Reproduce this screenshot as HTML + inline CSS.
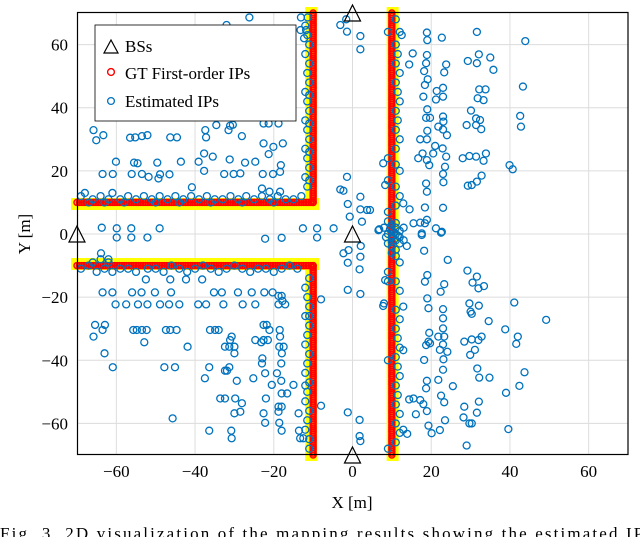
<!DOCTYPE html>
<html><head><meta charset="utf-8">
<style>
html,body{margin:0;padding:0;background:#fff;}
svg{display:block;}
text{font-family:"Liberation Serif",serif;fill:#000;}
</style></head>
<body>
<svg id="chart" width="640" height="537" viewBox="0 0 640 537">
<g id="grid"></g>
<g id="plot"></g>
<rect x="77.5" y="12.5" width="550.5" height="442" fill="none" stroke="#000" stroke-width="1.2"/>
<g id="ticks"></g>
<g id="bs"></g>
<text x="352" y="508" font-size="17" text-anchor="middle">X [m]</text>
<text x="0" y="0" font-size="17" text-anchor="middle" transform="translate(30,234) rotate(-90)">Y [m]</text>
<g>
<rect x="95" y="25" width="201" height="96" fill="#fff" stroke="#000" stroke-width="0.8"/>
<polygon points="104,53 111,40 118,53" fill="none" stroke="#000" stroke-width="1.2"/>
<text x="125" y="52" font-size="17">BSs</text>
<circle cx="111" cy="72" r="3.4" fill="none" stroke="#f00" stroke-width="1.4"/>
<text x="125" y="79" font-size="17">GT First-order IPs</text>
<circle cx="111" cy="101" r="3.4" fill="none" stroke="#0072BD" stroke-width="1.3"/>
<text x="125" y="107" font-size="17">Estimated IPs</text>
</g>
<text x="0" y="539" font-size="17" textLength="652" lengthAdjust="spacing">Fig. 3.   2D visualization of the mapping results showing the estimated IPs</text>
</svg>
<script>
const xTicks = [-60,-40,-20,0,20,40,60];
const yTicks = [-60,-40,-20,0,20,40,60];
const bsPoints = [[0,70],[-70,0],[0,0],[0,-70]];
const roadSegments = [[-70,10,-10,10],[-10,10,-10,70],[-70,-10,-10,-10],[-10,-10,-10,-70],[10,-70,10,70]];
const gtStep = 0.6;
const estTopLeft = [[-65.8,32.9],[-65.1,29.7],[-63.3,31.3],[-56.5,30.5],[-55.2,30.6],[-53.5,31],[-52.1,31.3],[-46.3,30.6],[-44.6,30.6],[-37.4,32.9],[-37.2,30.6],[-34.6,34.5],[-31.1,34.3],[-30.4,34.6],[-31.5,32.9],[-28.1,31],[-22.6,35],[-21.3,35],[-18.8,35],[-22.6,28.7],[-20.1,27.6],[-17.7,28.7],[-21.3,25.3],[-37.7,25.5],[-35.5,24.5],[-60.1,22.9],[-55.5,22.6],[-54.6,22.4],[-49.6,22.6],[-43.6,22.9],[-39.1,22.9],[-31.2,23.6],[-27.3,22.6],[-24.7,22.9],[-18.2,21.8],[-63.5,19],[-60.9,19],[-56.1,19],[-53.5,19],[-51.8,18.1],[-48.9,18.9],[-46.5,18.9],[-49.3,17.6],[-40.8,14.8],[-37.7,20],[-32.6,19],[-30.2,19],[-28.5,19.2],[-22.8,19],[-20.2,19],[-18.4,19.7],[-23,14.4],[-21.1,13.4],[-18.4,13.4],[-32,66.2],[-26.2,68.6],[-31.8,64.6],[-13.1,68.6],[-11.4,68.6],[-13.2,64.6],[-11.8,64.6],[-12.3,62],[-3.1,66.2],[-1.6,68],[-1.4,64.1],[2,62.7],[2,58.5],[-1.4,18.1],[-3.1,14.1],[-2.3,13.7],[2,11.8],[-1.2,9.5],[2,7.8],[3.7,7.6],[-0.7,5.5],[2.4,3.9],[-4.8,1.8],[6.6,1.2],[-63.7,2],[-59.9,1.8],[-56.2,1.8],[-49,1.8],[-59.9,-1.1],[-56.2,-1.1],[-52.1,-1.1],[-22.2,-1.5],[-18,-1.2],[-12.6,1.8],[-9,1.8],[-9,-1.1]];
const estRoadLeft = [[-69,12],[-68,13],[-66,11],[-64,12],[-62,11],[-61,13],[-59,11],[-57,12],[-55,11],[-53,12],[-51,11],[-49,12],[-47,11],[-45,12],[-43,11],[-41,12],[-39,11],[-37,12],[-35,11],[-33,11],[-31,12],[-29,11],[-27,12],[-25,11],[-23,12],[-21,11],[-19,12],[-17,11],[-15,11],[-13,12],[-67,10],[-63,10],[-58,10],[-50,10],[-44,10],[-36,10],[-28,10],[-20,10],[-11.5,15],[-12,18],[-11,21],[-11.5,24],[-12,27],[-11,30],[-11.5,33],[-12,36],[-11,39],[-11.5,42],[-12,45],[-11,48],[-11.5,51],[-11,54],[-12,57],[-11,60],[-11.5,63],[-12,66],[-11,17],[-11,26],[-11,44],[-11,35],[-69,-11],[-67,-10],[-65,-12],[-63,-11],[-61,-12],[-59,-11],[-57,-11],[-55,-12],[-52,-11],[-50,-11],[-48,-12],[-46,-10],[-44,-11],[-42,-12],[-40,-11],[-38,-10],[-36,-11],[-34,-12],[-32,-11],[-30,-10],[-28,-11],[-26,-12],[-24,-11],[-22,-11],[-20,-12],[-18,-11],[-16,-10],[-14,-11],[-64,-8],[-62,-9],[-66,-9],[-63.9,-6.1],[-11,-14],[-12,-17],[-11.5,-20],[-11,-23],[-12,-26],[-11,-29],[-11.5,-32],[-12,-35],[-11,-38],[-11.5,-41],[-12,-44],[-11,-47],[-11.5,-50],[-12,-53],[-11,-56],[-11.5,-59],[-12,-62],[-11,-65],[-11,-68],[-12,-48],[-11,-26],[-8,-20.7],[-8,-54.4]];
const estBottomLeft = [[-63.5,-18.5],[-61,-18.5],[-56,-18.5],[-53.6,-18.5],[-50.2,-18.5],[-46.1,-18.5],[-35.2,-18.5],[-33.2,-18.5],[-29.1,-18.5],[-25.6,-18.5],[-22.4,-18.5],[-20.3,-18.5],[-60.2,-22.3],[-57.5,-22.3],[-54.5,-22.3],[-52.1,-22.3],[-48.9,-22.3],[-46.6,-22.3],[-44,-22.3],[-39.2,-22.3],[-37.2,-22.3],[-32.8,-22.3],[-27.9,-22.3],[-24.7,-22.3],[-18.8,-22.3],[-17.1,-22.3],[-18.8,-19.6],[-18,-19.6],[-17.8,-21.2],[-52.5,-14.4],[-46.3,-14.4],[-42.3,-14.4],[-38.2,-14.4],[-65.4,-28.8],[-62.9,-28.8],[-22.6,-28.8],[-21.8,-28.8],[-63.5,-30.4],[-55.7,-30.4],[-54.8,-30.4],[-53.5,-30.4],[-52.3,-30.4],[-47.4,-30.4],[-46.3,-30.4],[-44.7,-30.4],[-36.2,-30.4],[-34.9,-30.4],[-34,-30.4],[-21.1,-30.4],[-18.5,-30.4],[-65.8,-32.5],[-30.7,-32.5],[-18.4,-32.5],[-31.1,-33.6],[-24.7,-33.6],[-22.6,-33.6],[-21.5,-33.6],[-52.9,-34.3],[-23.2,-34.3],[-41.9,-35.7],[-32.4,-35.7],[-31.3,-35.7],[-30,-35.7],[-18.6,-35.7],[-17.5,-35.7],[-63,-37.8],[-30,-37.8],[-17.95,-37.8],[-22.9,-39.4],[-23,-41],[-18.1,-41],[-60.9,-42.2],[-47.8,-42.2],[-45.1,-42.2],[-36.4,-42.2],[-31.3,-42.2],[-32.4,-43.3],[-31.9,-43.3],[-22.2,-44.1],[-19.2,-44.1],[-37.5,-45.7],[-25.2,-45.7],[-29.4,-46.5],[-18.1,-46.5],[-20.5,-47.8],[-15,-47.8],[-18,-50.5],[-16.6,-50.5],[-33.6,-52.1],[-32.4,-52.1],[-29.8,-52.1],[-22,-52.1],[-28.1,-53.6],[-18.8,-54.7],[-18,-54.7],[-28.5,-56.3],[-18.8,-56.3],[-30,-56.8],[-22.6,-56.8],[-13.7,-56.8],[-45.7,-58.4],[-22.2,-59.8],[-18.6,-59.8],[-36.4,-62.3],[-30.8,-62.3],[-18,-62.3],[-13.6,-62.3],[-30.7,-64.7],[-13.3,-64.7],[-12.5,-64.7],[-62,-8],[-2.3,-6.1],[-1,-5.1],[2.1,-3.8],[-1.2,-9.1],[2,-7.2],[1.8,-11.2],[-1.2,-17.7],[2,-19],[-1.2,-56.5],[1.8,-58.9],[1.8,-64],[2,-65.6]];
const estRight = [[18.9,63.8],[22.7,62.2],[31.6,64],[43.9,61.1],[19,61.4],[15.3,57.2],[18.9,56.7],[14.4,53.7],[18.7,54.1],[23.8,53.7],[23.3,51.2],[18.2,51.6],[29.3,54.8],[31.6,54.1],[32.1,56.9],[35,55.9],[35.8,52],[19.1,49],[18.4,47.2],[21.4,45.3],[23,46.3],[21.2,42.6],[23,43.5],[18,43.5],[32.2,45.8],[33.8,45.8],[31.8,43],[33.3,42.4],[43.3,46.7],[19,39.5],[18.7,36.8],[19.7,36.8],[23,37.2],[23.1,35.6],[21.8,34],[23,33.1],[24,31.3],[19,32.7],[17.2,30],[18.9,30],[30.1,39.1],[31.4,36.6],[32.4,36.1],[29,34.5],[31.4,34.5],[32.7,33.2],[42.6,37.4],[42.8,34],[21,27.9],[22.9,27.1],[23.8,24.5],[20.5,25.5],[17.8,25.5],[16.7,24],[18.9,23.4],[19.5,21.8],[23.5,21.3],[23,19],[23.1,16.4],[28,24],[29.7,24.7],[31.4,24.5],[33.9,25.5],[33.3,23.2],[32.8,18.5],[31.6,16.6],[29.3,15.3],[30.3,15.5],[39.9,21.8],[40.7,20.5],[18.7,16],[18.9,13.4],[18.4,8.4],[23,8.3],[7.8,22.4],[8.3,15.5],[14.5,7.8],[12.9,9.7],[4.45,7.6],[15.5,3.4],[17.2,3.6],[18.9,4.5],[18.4,3.4],[21.2,1.8],[22.7,0.7],[17.6,0.2],[6.8,1.5],[17.6,-0.3],[22.5,0.4],[18.2,-5.3],[24.2,-8.2],[29.2,-11.6],[31.6,-13.5],[30.5,-15.4],[32,-17.2],[33.4,-16.5],[19,-13],[18.4,-15.1],[23.3,-15.9],[22.4,-18.3],[13.8,-3.8],[19,-20.4],[19.3,-23.5],[23,-23.8],[23,-26.7],[29.7,-22],[32.1,-22.7],[30,-24.6],[30.3,-25.3],[34.6,-27.6],[41.1,-21.7],[49.2,-27.2],[38.8,-30.2],[42,-32.5],[41.6,-34.8],[19.5,-31.3],[23,-29.9],[21.8,-32.5],[23.3,-32.5],[19.3,-34.1],[18.7,-35.2],[19.7,-34.6],[22.2,-36.7],[24.1,-37.3],[23,-35],[28.4,-34.1],[30.3,-33.4],[32,-33.6],[32.8,-32.5],[31.1,-36.7],[29.9,-38.3],[18.2,-39.9],[23.1,-39.7],[23,-43],[21.8,-46.2],[18.9,-46.5],[18.7,-48.9],[25.5,-48.2],[31.7,-42.6],[32.2,-45.5],[34.8,-45.5],[43.7,-43.8],[42.4,-48.1],[39,-50.3],[14.4,-52.4],[15.5,-52.1],[17.2,-52.6],[18,-53.9],[18.9,-56.1],[16.1,-57.1],[22.5,-51.2],[23.3,-53.3],[28.4,-54.7],[32.1,-53.1],[31.6,-56.6],[28.2,-58.1],[23.5,-59],[29.7,-60],[30.3,-60],[19.3,-60.7],[22.2,-62.1],[20.1,-63.1],[29,-67],[39.6,-61.8],[12.9,-62],[13.9,-63.3],[7.8,-22.8],[8.3,-14.6],[12.9,-36.8],[12.9,-23]];
const estRoadRight = [[11,68],[12,64],[9,64],[12.5,63],[11,60],[11.5,57],[11,54],[12,51],[11,48],[11.5,45],[12,42],[11,39],[11.5,36],[11,33],[12,30],[11,27],[9,24],[11,22],[12,20],[9,17],[11,15],[12,12],[11,9],[9,7],[11,-7],[12,-9],[9,-12],[11,-15],[12,-18],[8,-22],[11,-24],[12,-27],[11,-30],[11.5,-33],[12,-36],[11,-39],[11.5,-42],[12,-45],[11,-48],[11.5,-51],[11,-54],[12,-57],[11,-60],[12,-63],[11,-66],[9,-68],[9,-15],[9,-40],[9,4],[10,3],[11,2],[12,1],[9,0],[10,-1],[11,-2],[12,-3],[10,-4],[11,-5],[9,-3],[10.5,0.5],[11.5,-0.5],[9.5,1.5],[10,-2.5],[11,3.5],[12,-1],[8.5,-1],[10,1],[11,0],[13,2],[13,-2],[10,-6],[8,2]];

const NS='http://www.w3.org/2000/svg';
const X0=352.5, SX=3.936, Y0=234, SY=3.157;
function sx(x){return X0+x*SX;}
function sy(y){return Y0-y*SY;}
function mk(tag,attrs,parent){const e=document.createElementNS(NS,tag);for(const k in attrs)e.setAttribute(k,attrs[k]);parent.appendChild(e);return e;}
const grid=document.getElementById('grid'),plot=document.getElementById('plot'),ticks=document.getElementById('ticks'),bs=document.getElementById('bs');
xTicks.forEach(v=>{
  const l=mk('line',{x1:sx(v),x2:sx(v),y1:12.5,y2:454.5,stroke:'#dcdcdc','stroke-width':1},grid);
  
  
  const t=mk('text',{x:sx(v),y:477,'font-size':17,'text-anchor':'middle'},ticks);
  t.textContent=v<0?'\u2212'+(-v):String(v);
  
  
});
yTicks.forEach(v=>{
  const l=mk('line',{x1:77.5,x2:628,y1:sy(v),y2:sy(v),stroke:'#dcdcdc','stroke-width':1},grid);
  
  
  const t=mk('text',{x:68,y:sy(v)+6,'font-size':17,'text-anchor':'end'},ticks);
  t.textContent=v<0?'\u2212'+(-v):String(v);
  
  
});
roadSegments.forEach(s=>{
  const horiz=s[1]===s[3];
  const dx=horiz?0:(s[0]<0?-0.5:0.2), dy=horiz?(s[1]>0?-0.5:0.5):0;
  const l=mk('line',{x1:sx(s[0]+dx),y1:sy(s[1]+dy),x2:sx(s[2]+dx),y2:sy(s[3]+dy),stroke:'#ffff00','stroke-width':12,'stroke-linecap':'square'},plot);
  
  
});
roadSegments.forEach(s=>{
  const len=Math.hypot(s[2]-s[0],s[3]-s[1]);
  const n=Math.round(len/gtStep);
  for(let i=0;i<=n;i++){
    const t=i/n, x=s[0]+(s[2]-s[0])*t, y=s[1]+(s[3]-s[1])*t;
    const c=mk('circle',{cx:sx(x),cy:sy(y),r:3,fill:'none',stroke:'#ff0000','stroke-width':1.5},plot);
    
    
  }
});
[estTopLeft,estRoadLeft,estBottomLeft,estRight,estRoadRight].forEach(arr=>{
  arr.forEach(p=>{
    const c=mk('circle',{cx:sx(p[0]),cy:sy(p[1]),r:3.5,fill:'none',stroke:'#0072BD','stroke-width':1.3},plot);
    
    
  });
});
bsPoints.forEach(p=>{
  const x=sx(p[0]),y=sy(p[1]);
  const t=mk('polygon',{points:`${x-8},${y+8} ${x},${y-8} ${x+8},${y+8}`,fill:'none',stroke:'#000','stroke-width':1.2},bs);
  
  
});
</script>
</body></html>
